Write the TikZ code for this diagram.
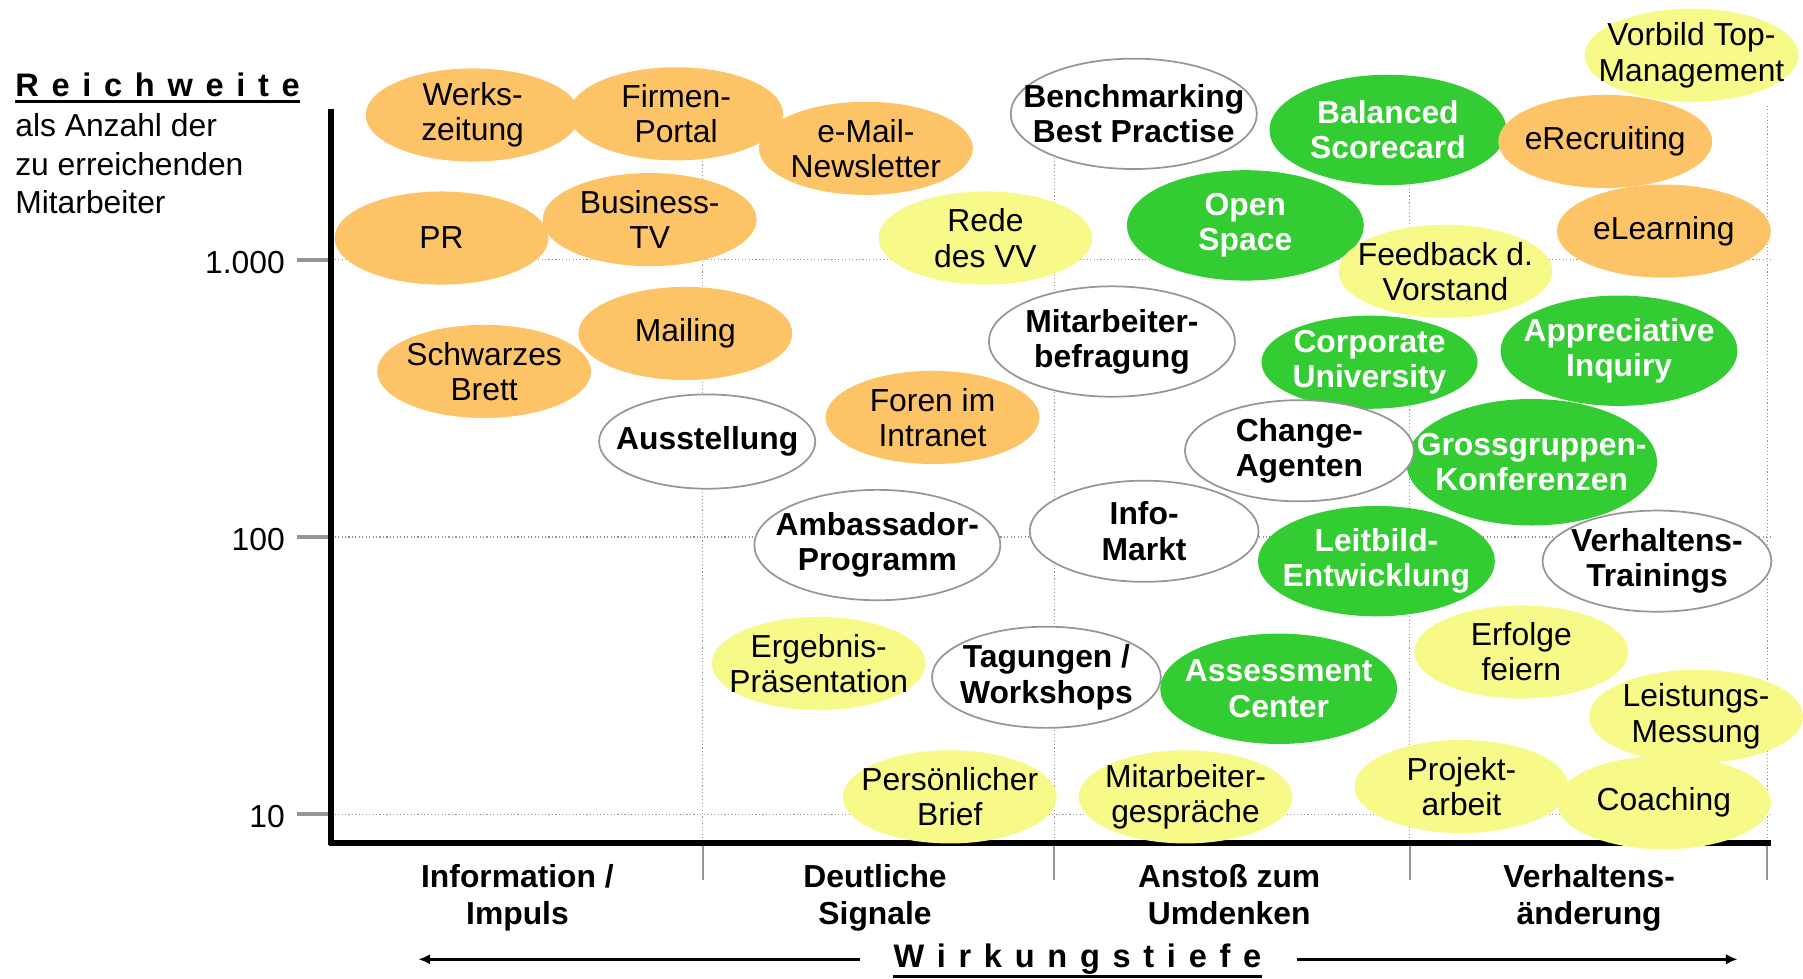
\documentclass[tikz,border=0pt]{standalone}
\usepackage{fontspec}
\setmainfont{Liberation Sans}
\newfontfamily\spacedfont[LetterSpace=39]{Liberation Sans}
\usetikzlibrary{arrows.meta,shapes.geometric,positioning}
\definecolor{orangeblob}{RGB}{252,196,102}
\definecolor{yellowblob}{RGB}{247,249,136}
\definecolor{greenblob}{RGB}{51,204,51}
\definecolor{axisgray}{RGB}{150,150,150}

\tikzset{
  blob/.style={ellipse,inner sep=0pt,minimum width=111.6pt,minimum height=48.6pt},
  ora/.style={blob,fill=orangeblob},
  yel/.style={blob,fill=yellowblob},
  grn/.style={blob,fill=greenblob,minimum width=123.6pt,minimum height=57.6pt},
  wht/.style={blob,fill=white,draw=axisgray,line width=0.9pt,minimum width=119.4pt,minimum height=52.8pt},
  wbig/.style={wht,minimum width=128.4pt,minimum height=57.6pt},
  txt/.style={align=center,inner sep=0pt,font=\fontsize{16.6}{18.4}\selectfont},
  btxt/.style={txt,font=\fontsize{16.6}{18.4}\selectfont\bfseries},
  cat/.style={align=center,inner sep=0pt,anchor=north,font=\fontsize{16.6}{19.6}\selectfont\bfseries},
  grid/.style={axisgray,line width=0.6pt,dash pattern=on 0.6pt off 1.2pt},
}

\begin{document}
\begin{tikzpicture}[x=0.6pt,y=-0.6pt,>={Latex[length=6pt,width=5.5pt]}]
\useasboundingbox (0,0) rectangle (1568,851);
% grid
\foreach \y in {226,467,708} \draw[grid] (288,\y) -- (1540,\y);
\foreach \x in {611,917,1226,1537} {
  \draw[grid] (\x,92) -- (\x,733);
  \draw[axisgray,line width=1pt] (\x,733) -- (\x,765);
}
% axes
\foreach \y/\v in {226/1.000,467/100,708/10} {
  \draw[axisgray,line width=1.7pt] (258,\y) -- (288,\y);
  \node[txt,anchor=east] (tick\y) at (248,\y+2.5) {\v};
}
\draw[line width=2.8pt] (288,95) -- (288,735);
\draw[line width=3.5pt] (286.5,733) -- (1540,733);

% green
\foreach \n/\x/\y/\t in {bsc/1207/113/{Balanced\\Scorecard},open/1083/196/{Open\\Space},
    ai/1408/305/{Appreciative\\Inquiry},leit/1197/488/{Leitbild-\\Entwicklung},
    ac/1112/599/{Assessment\\Center}}
  \node[grn,label={[btxt,text=white,name=\n-t]center:\t}] (\n) at (\x,\y) {};
\node[grn,minimum width=112.8pt,minimum height=48.6pt,
  label={[btxt,text=white,name=cu-t]center:Corporate\\University}] (cu) at (1191,315) {};
\node[grn,minimum width=130.8pt,minimum height=66pt,
  label={[btxt,text=white,name=ggk-t]center:Grossgruppen-\\Konferenzen}] (ggk) at (1332,402) {};

% orange
\foreach \n/\x/\y/\t in {werks/411/100/{Werks-\\zeitung},firmen/588/99/{Firmen-\\Portal},
    news/753/129/{e-Mail-\\Newsletter},pr/384/207/{PR},btv/565/191/{Business-\\TV},
    brett/421/323/{Schwarzes\\Brett},mail/596/290/{Mailing},foren/811/363/{Foren im\\Intranet},
    erec/1396/123/{eRecruiting},elearn/1447/201/{eLearning}}
  \node[ora,label={[txt,name=\n-t]center:\t}] (\n) at (\x,\y) {};

% yellow
\foreach \n/\x/\y/\t in {vorbild/1471/48/{Vorbild Top-\\Management},rede/857/207/{Rede\\des VV},
    feed/1257/236/{Feedback d.\\Vorstand},ergeb/712/577/{Ergebnis-\\Präsentation},
    brief/826/693/{Persönlicher\\Brief},gesp/1031/693/{Mitarbeiter-\\gespräche},
    erfolg/1323/567/{Erfolge\\feiern},leist/1475/623/{Leistungs-\\Messung},
    proj/1271/684/{Projekt-\\arbeit},coach/1447/698/{Coaching}}
  \node[yel,label={[txt,name=\n-t]center:\t}] (\n) at (\x,\y) {};

% white
\foreach \n/\x/\y/\t in {change/1130/392/{Change-\\Agenten},info/995/462/{Info-\\Markt},
    vt/1441/488/{Verhaltens-\\Trainings},tag/910/589/{Tagungen /\\Workshops}}
  \node[wht,label={[btxt,name=\n-t]center:\t}] (\n) at (\x,\y) {};
\foreach \n/\x/\y/\t in {bench/986/99/{Benchmarking\\Best Practise},
    befr/967/297/{Mitarbeiter-\\befragung},amb/763/474/{Ambassador-\\Programm}}
  \node[wbig,label={[btxt,name=\n-t]center:\t}] (\n) at (\x,\y) {};
\node[wht,minimum width=112.8pt,minimum height=49.2pt,
  label={[btxt,name=ausst-t]center:Ausstellung}] (ausst) at (615,384) {};

% axis titles
\node[anchor=base west,inner sep=0pt,font=\spacedfont\bfseries\fontsize{17}{18}\selectfont]
  (reich) at (13,83.5) {Reichweite};
\draw[line width=1.7pt] ([yshift=-3pt]reich.base west) -- ([yshift=-3pt]reich.base east);
\node[anchor=north west,align=left,inner sep=0pt,font=\fontsize{16.6}{20.1}\selectfont]
  (unit) at (13,98.5) {als Anzahl der\\zu erreichenden\\Mitarbeiter};

\node[anchor=base,inner sep=0pt,font=\spacedfont\bfseries\fontsize{17}{18}\selectfont]
  (wirk) at (937,841.5) {Wirkungstiefe};
\draw[line width=1.5pt] ([yshift=-4.8pt]wirk.base west) -- ([yshift=-4.8pt]wirk.base east);
\coordinate (wl) at (364,833);
\coordinate (wr) at (1511,833);
\draw[->,line width=1.3pt] ([xshift=-17.4pt]wirk.west) -- (wirk.west -| wl);
\draw[->,line width=1.3pt] ([xshift=18.6pt]wirk.east) -- (wirk.east -| wr);

% categories
\node[cat] (c1) at (450,751) {Information /\\Impuls};
\node[cat] (c2) at (761,751) {Deutliche\\Signale};
\node[cat] (c3) at (1069,751) {Anstoß zum\\Umdenken};
\node[cat] (c4) at (1382,751) {Verhaltens-\\änderung};
\end{tikzpicture}
\end{document}
